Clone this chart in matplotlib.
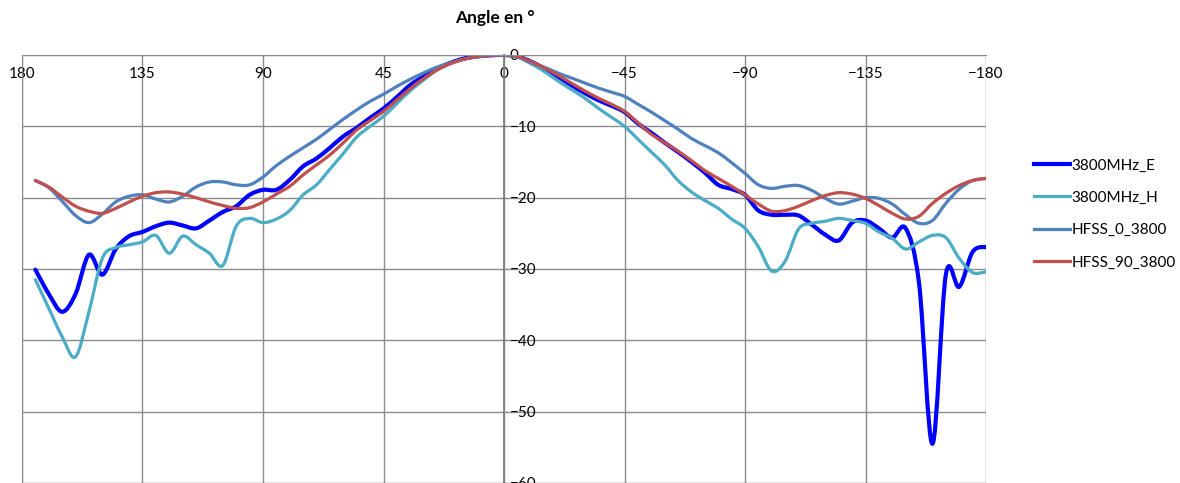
import numpy as np
import matplotlib
matplotlib.use('Agg')
import matplotlib.pyplot as plt
from matplotlib.path import Path
from matplotlib.patches import PathPatch
from matplotlib.lines import Line2D

plt.rcParams['font.family'] = ['Lato', 'DejaVu Sans']

# angles in degrees, 175 down to -180 (5 deg step)
angles = list(range(175, -185, -5))

e_3800 = [-30.1, -33.5, -36.0, -33.5, -28.0, -30.8, -27.2, -25.4, -24.8, -24.0,
          -23.5, -23.9, -24.3, -23.2, -22.0, -21.2, -19.6, -18.9, -18.9, -17.5,
          -15.6, -14.5, -13.0, -11.4, -10.2, -8.8, -7.5, -5.9, -4.2, -3.0,
          -1.9, -1.1, -0.5, -0.2, -0.05, 0.0, -0.2, -0.9, -1.9, -3.0,
          -4.2, -5.3, -6.3, -7.1, -8.0, -9.6, -10.9, -12.3, -13.6, -15.0,
          -16.5, -18.2, -18.8, -19.6, -21.8, -22.4, -22.4, -22.5, -23.8, -25.2,
          -26.0, -23.5, -23.2, -24.3, -25.6, -24.3, -32.0, -54.5, -30.8, -32.5,
          -27.6, -26.9]

h_3800 = [-31.5, -35.5, -39.5, -42.3, -36.0, -28.5, -27.0, -26.6, -26.2, -25.3,
          -27.8, -25.4, -26.6, -27.8, -29.5, -24.0, -22.9, -23.5, -23.0, -21.8,
          -19.6, -18.2, -16.0, -13.8, -11.5, -10.0, -8.6, -6.8, -5.0, -3.5,
          -2.1, -1.2, -0.6, -0.2, -0.05, 0.0, -0.3, -1.2, -2.3, -3.6,
          -4.8, -6.0, -7.4, -8.7, -10.0, -11.8, -13.6, -15.4, -17.6, -19.2,
          -20.4, -21.5, -23.0, -24.3, -26.9, -30.3, -28.9, -24.4, -23.6, -23.3,
          -22.9, -23.2, -23.6, -24.8, -25.7, -27.2, -26.2, -25.3, -25.6, -28.5,
          -30.5, -30.4]

hfss_0 = [-17.6, -18.6, -20.5, -22.5, -23.5, -22.3, -20.6, -19.8, -19.6, -20.2,
          -20.6, -19.8, -18.5, -17.8, -17.8, -18.2, -18.2, -17.1, -15.5, -14.2,
          -13.0, -11.8, -10.4, -9.0, -7.7, -6.5, -5.5, -4.4, -3.4, -2.5,
          -1.7, -1.1, -0.6, -0.25, -0.05, 0.0, -0.2, -1.1, -1.7, -2.5,
          -3.2, -3.9, -4.6, -5.2, -5.8, -6.9, -8.0, -9.2, -10.4, -11.7,
          -12.7, -13.7, -15.1, -16.6, -18.2, -18.7, -18.4, -18.3, -19.0, -20.1,
          -20.9, -20.5, -20.0, -20.1, -20.9, -22.4, -23.6, -23.2, -20.8, -18.8,
          -17.6, -17.3]

hfss_90 = [-17.6, -18.5, -19.9, -21.2, -21.9, -22.2, -21.5, -20.6, -19.8, -19.3,
           -19.2, -19.5, -20.0, -20.6, -21.1, -21.5, -21.4, -20.6, -19.5, -18.4,
           -16.8, -15.4, -14.0, -12.3, -10.5, -9.2, -7.9, -6.3, -4.7, -3.3,
           -2.1, -1.2, -0.6, -0.2, -0.05, 0.0, -0.2, -0.9, -1.8, -2.8,
           -3.9, -5.0, -6.0, -6.9, -7.9, -9.5, -11.1, -12.3, -13.5, -14.8,
           -16.2, -17.3, -18.4, -19.6, -20.9, -21.9, -21.8, -21.2, -20.4, -19.7,
           -19.3, -19.5, -20.1, -21.1, -22.2, -23.0, -22.6, -20.8, -19.4, -18.3,
           -17.6, -17.3]

series = [
    ('3800MHz_E', e_3800, '#0000FF', 3.0),
    ('3800MHz_H', h_3800, '#4BACC6', 2.3),
    ('HFSS_0_3800', hfss_0, '#4F81BD', 2.3),
    ('HFSS_90_3800', hfss_90, '#C0504D', 2.3),
]


def smooth_path(x, y):
    # Excel style smoothed line: Bezier through the points
    p = np.column_stack([x, y]).astype(float)
    ext = np.vstack([p[0], p, p[-1]])
    verts = [p[0]]
    codes = [Path.MOVETO]
    for i in range(len(p) - 1):
        p0, p1, p2, p3 = ext[i], ext[i + 1], ext[i + 2], ext[i + 3]
        verts += [p1 + (p2 - p0) / 6, p2 - (p3 - p1) / 6, p2]
        codes += [Path.CURVE4] * 3
    return Path(verts, codes)


fig = plt.figure(figsize=(11.8, 4.83), dpi=100)
ax = fig.add_axes([22 / 1180, 0.0, 964 / 1180, 1 - 55 / 483])

handles = []
for name, vals, col, lw in series:
    ax.add_patch(PathPatch(smooth_path(angles, vals), fill=False, edgecolor=col,
                           lw=lw, joinstyle='round', capstyle='round'))
    handles.append(Line2D([], [], color=col, lw=lw, label=name))

ax.set_xlim(180, -180)
ax.set_ylim(-60, 0)
ax.set_xticks([180, 135, 90, 45, 0, -45, -90, -135, -180])
ax.set_yticks([0, -10, -20, -30, -40, -50, -60])
ax.grid(True, color='#8C8C8C', lw=1)
ax.set_axisbelow(True)

for s in ['left', 'top', 'bottom']:
    ax.spines[s].set_color('#8C8C8C')
ax.spines['right'].set_position(('data', 0))
ax.spines['right'].set_color('#7F7F7F')
ax.spines['right'].set_linewidth(1.3)

ax.xaxis.tick_top()
ax.tick_params(axis='x', length=0, pad=-19, labelsize=11, colors='#000000')
ax.yaxis.tick_right()
ax.tick_params(axis='y', length=4, direction='inout', pad=2, labelsize=11,
               color='#7F7F7F', labelcolor='#000000')
for lab in ax.get_yticklabels():
    lab.set_horizontalalignment('left')

fig.text(495 / 1180, 1 - 18 / 483, 'Angle en °', ha='center', va='center',
         fontsize=12.5, fontweight='bold')

ax.legend(handles=handles, loc='center left',
          bbox_to_anchor=(1020 / 1180, 1 - 214 / 483),
          bbox_transform=fig.transFigure, frameon=False, fontsize=11,
          handlelength=2.4, handletextpad=0.05, labelspacing=1.2)

fig.savefig('out.png', dpi=100)
